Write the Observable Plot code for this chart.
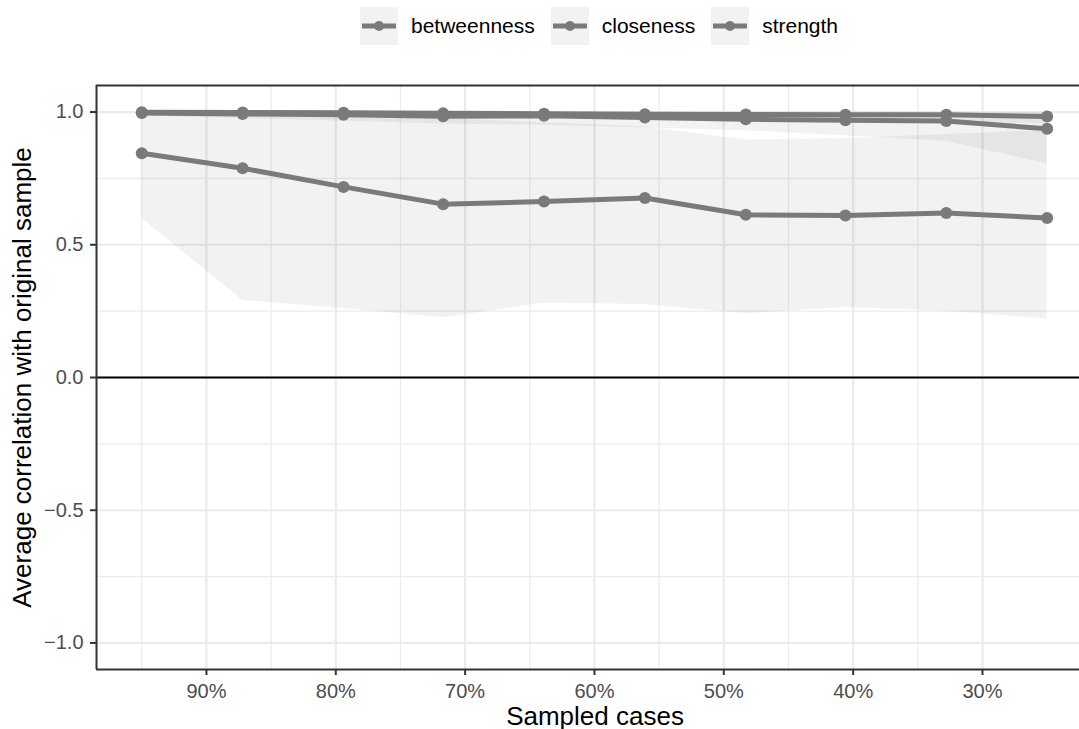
<!DOCTYPE html>
<html><head><meta charset="utf-8">
<script src="https://cdn.jsdelivr.net/npm/d3@7"></script>
<script src="https://cdn.jsdelivr.net/npm/@observablehq/plot@0.6"></script>
<style>
html,body{margin:0;padding:0;background:#fff;overflow:hidden;}
body{font-family:"Liberation Sans",Arial,Helvetica,sans-serif;width:1079px;height:729px;}
#legend{height:55px;display:flex;align-items:flex-start;padding-left:360px;box-sizing:border-box;}
.item{display:flex;align-items:center;margin-top:7px;height:38px;}
.key{width:38px;height:38px;background:#f2f2f2;display:block;}
.lab{font-size:21px;color:#000;margin-left:13px;margin-right:16px;}
#chart svg{display:block;}
</style></head><body>
<div id="legend"></div>
<div id="chart"></div>
<script>
// Sampled cases (%) on the x axis
const sampled = [95, 87.2, 79.4, 71.7, 63.9, 56.1, 48.3, 40.6, 32.8, 25];
const seriesNames = ["betweenness", "closeness", "strength"];

// mean correlation
const betweennessMean = [0.845, 0.788, 0.718, 0.653, 0.663, 0.676, 0.613, 0.610, 0.620, 0.601];
const closenessMean   = [0.996, 0.993, 0.990, 0.984, 0.986, 0.979, 0.973, 0.969, 0.966, 0.937];
const strengthMean    = [0.999, 0.998, 0.997, 0.995, 0.994, 0.992, 0.991, 0.990, 0.990, 0.983];

// ribbon bounds
const betweennessLow  = [0.60, 0.29, 0.26, 0.225, 0.28, 0.275, 0.24, 0.265, 0.25, 0.22];
const betweennessHigh = [1.00, 0.995, 0.99, 0.975, 0.96, 0.945, 0.895, 0.90, 0.915, 0.93];
const closenessLow    = [0.985, 0.975, 0.965, 0.955, 0.95, 0.94, 0.93, 0.91, 0.89, 0.805];
const closenessHigh   = [1.00, 1.00, 1.00, 0.998, 0.998, 0.997, 0.997, 0.995, 0.995, 0.995];
const strengthLow     = [0.995, 0.99, 0.985, 0.98, 0.978, 0.975, 0.97, 0.965, 0.962, 0.955];
const strengthHigh    = [1.00, 1.00, 1.00, 1.00, 1.00, 1.00, 1.00, 1.00, 0.999, 0.998];

// axis ticks
const xMajor = [90, 80, 70, 60, 50, 40, 30];
const xMinor = [95, 85, 75, 65, 55, 45, 35];
const yMajor = [-1, -0.5, 0, 0.5, 1];
const yMinor = [-0.75, -0.25, 0.25, 0.75];

const xTitle = "Sampled cases";
const yTitle = "Average correlation with original sample";

const means = [betweennessMean, closenessMean, strengthMean];
const lows = [betweennessLow, closenessLow, strengthLow];
const highs = [betweennessHigh, closenessHigh, strengthHigh];

const rows = [];
seriesNames.forEach((s, i) => sampled.forEach((x, j) => rows.push({series: s, x, mean: means[i][j], lo: lows[i][j], hi: highs[i][j]})));

const lineColor = "#7a7a7a";

// legend
const legend = document.getElementById("legend");
seriesNames.forEach(name => {
  const item = document.createElement("div");
  item.className = "item";
  item.innerHTML = `<svg class="key" width="38" height="38"><line x1="2" x2="36" y1="19" y2="19" stroke="${lineColor}" stroke-width="5"/><circle cx="19" cy="19" r="5" fill="${lineColor}"/></svg><span class="lab">${name}</span>`;
  legend.appendChild(item);
});

const gridColor = "#ebebeb";
const plot = Plot.plot({
  width: 1079, height: 674,
  marginLeft: 96, marginRight: 0, marginTop: 30, marginBottom: 60,
  style: {fontFamily: "Liberation Sans, Arial, Helvetica, sans-serif", fontSize: "20px", background: "white", color: "#4d4d4d"},
  x: {domain: [98.5, 22.5]},
  y: {domain: [-1.1, 1.1]},
  marks: [
    Plot.gridX({ticks: xMinor, stroke: gridColor, strokeOpacity: 1, strokeWidth: 1.2}),
    Plot.gridY({ticks: yMinor, stroke: gridColor, strokeOpacity: 1, strokeWidth: 1.2}),
    Plot.gridX({ticks: xMajor, stroke: gridColor, strokeOpacity: 1, strokeWidth: 2.2}),
    Plot.gridY({ticks: yMajor, stroke: gridColor, strokeOpacity: 1, strokeWidth: 2.2}),
    Plot.areaY(rows, {x: "x", y1: "lo", y2: "hi", z: "series", fill: "black", fillOpacity: 0.05}),
    Plot.ruleY([0], {stroke: "black", strokeWidth: 2.2}),
    Plot.line(rows, {x: "x", y: "mean", z: "series", stroke: lineColor, strokeWidth: 5}),
    Plot.dot(rows, {x: "x", y: "mean", r: 6, fill: lineColor, stroke: null}),
    Plot.ruleX([98.5], {stroke: "#333", strokeWidth: 2}),
    Plot.ruleY([1.1, -1.1], {stroke: "#333", strokeWidth: 2}),
    Plot.axisX({ticks: xMajor, tickFormat: d => d + "%", tickSize: 6, tickPadding: 8, label: null, fontSize: 20, stroke: "#333", strokeWidth: 2, fill: "#4d4d4d"}),
    Plot.axisY({ticks: yMajor, tickFormat: d3.format(".1f"), tickSize: 6, tickPadding: 7, label: null, fontSize: 20, stroke: "#333", strokeWidth: 2, fill: "#4d4d4d"}),
    Plot.text([xTitle], {text: d => d, frameAnchor: "bottom", textAnchor: "middle", lineAnchor: "top", dy: 37, dx: 7, fontSize: 26, fill: "black"}),
    Plot.text([yTitle], {text: d => d, frameAnchor: "left", textAnchor: "middle", rotate: -90, lineAnchor: "top", dx: -84, fontSize: 26, fill: "black"})
  ]
});
document.getElementById("chart").appendChild(plot);
</script>
</body></html>
